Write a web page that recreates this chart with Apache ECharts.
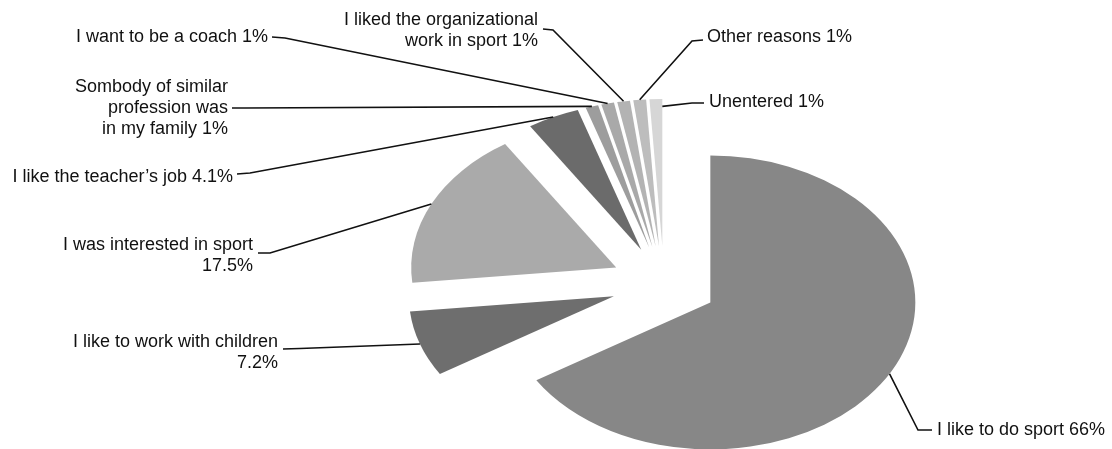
<!DOCTYPE html>
<html>
<head>
<meta charset="utf-8">
<script src="https://cdn.jsdelivr.net/npm/echarts@6/dist/echarts.min.js"></script>
<style>
  html, body { margin: 0; padding: 0; background: #fff; }
  #chart { width: 1112px; height: 449px; }
</style>
</head>
<body>
<div id="chart"></div>
<script>
/* global echarts */
// data (percent of answers), clockwise from 12 o'clock
const names = [
  'I like to do sport',
  'I like to work with children',
  'I was interested in sport',
  'I like the teacher\u2019s job',
  'Sombody of similar\nprofession was\nin my family',
  'I want to be a coach',
  'I liked the organizational\nwork in sport',
  'Other reasons',
  'Unentered'
]
const values = [66, 7.2, 17.5, 4.1, 1, 1, 1, 1, 1]
const valueSep = [' ', '\n', '\n', ' ', ' ', ' ', ' ', ' ', ' ']
const colors = ['#878787', '#6e6e6e', '#aaaaaa', '#6b6b6b', '#9d9d9d', '#a9a9a9', '#b3b3b3', '#bdbdbd', '#d6d6d6']

// label placement: text position / alignment and leader line bends
// at = where on the slice arc the leader starts (0..1), rr = fraction of radius
const labelLayout = [
  { x: 937, y: 419.5, align: 'left', line: [[918, 430], [932, 430]] },
  { x: 278, y: 331.5, align: 'right', line: [[300, 348.5], [283, 349]] },
  { x: 253, y: 234.5, align: 'right', line: [[270, 253], [258, 253]] },
  { x: 233, y: 166.5, align: 'right', line: [[250, 173], [237, 174]] },
  { x: 228, y: 76.5, align: 'right', line: [[245, 108], [232, 108]] },
  { x: 268, y: 26.5, align: 'right', line: [[285, 38], [272, 37]] },
  { x: 538, y: 9.5, align: 'right', line: [[553, 30], [543, 29]] },
  { x: 707, y: 26.5, align: 'left', line: [[692, 41], [703, 40]] },
  { x: 709, y: 91.5, align: 'left', line: [[692, 103], [704, 103]], at: 1, rr: 0.95 }
]

const cx = 664
const cy = 284
const radius = 205
const squash = 0.717 // tilted pie: vertical / horizontal radius
const explode = 53

const total = values.reduce((a, b) => a + b, 0)
const starts = []
let acc = 0
values.forEach(v => {
  starts.push(acc / total * Math.PI * 2)
  acc += v
})

function renderSlice (params, api) {
  const i = params.dataIndex
  const v = api.value(0)
  const a0 = starts[i]
  const a1 = a0 + v / total * Math.PI * 2
  const mid = (a0 + a1) / 2
  const ox = Math.sin(mid) * explode
  const oy = -Math.cos(mid) * explode
  const lay = labelLayout[i]
  const at = a0 + (a1 - a0) * (lay.at === undefined ? 0.5 : lay.at)
  const rr = radius * (lay.rr || 1)
  const anchor = [
    cx + ox + Math.sin(at) * rr,
    cy + (oy - Math.cos(at) * rr) * squash
  ]
  return {
    type: 'group',
    children: [
      {
        type: 'sector',
        shape: {
          cx: cx + ox,
          cy: cy + oy,
          r: radius,
          r0: 0,
          startAngle: a0 - Math.PI / 2,
          endAngle: a1 - Math.PI / 2,
          clockwise: true
        },
        originX: cx,
        originY: cy,
        scaleY: squash,
        style: { fill: colors[i] }
      },
      {
        type: 'polyline',
        shape: { points: [anchor].concat(lay.line) },
        style: { stroke: '#111', lineWidth: 1.6, fill: null }
      },
      {
        type: 'text',
        style: {
          text: names[i] + valueSep[i] + v + '%',
          x: lay.x,
          y: lay.y,
          align: lay.align,
          verticalAlign: 'top',
          lineHeight: 21,
          fontSize: 18,
          fontFamily: '"Liberation Sans", Arial, sans-serif',
          fill: '#111'
        }
      }
    ]
  }
}

const chartDom = echarts.init(document.querySelector('#chart'))
chartDom.setOption({
  animation: false,
  backgroundColor: '#fff',
  series: [
    {
      type: 'custom',
      coordinateSystem: 'none',
      renderItem: renderSlice,
      data: values.map(v => [v])
    }
  ]
})

window.onresize = () => {
  chartDom.resize()
}
</script>
</body>
</html>
